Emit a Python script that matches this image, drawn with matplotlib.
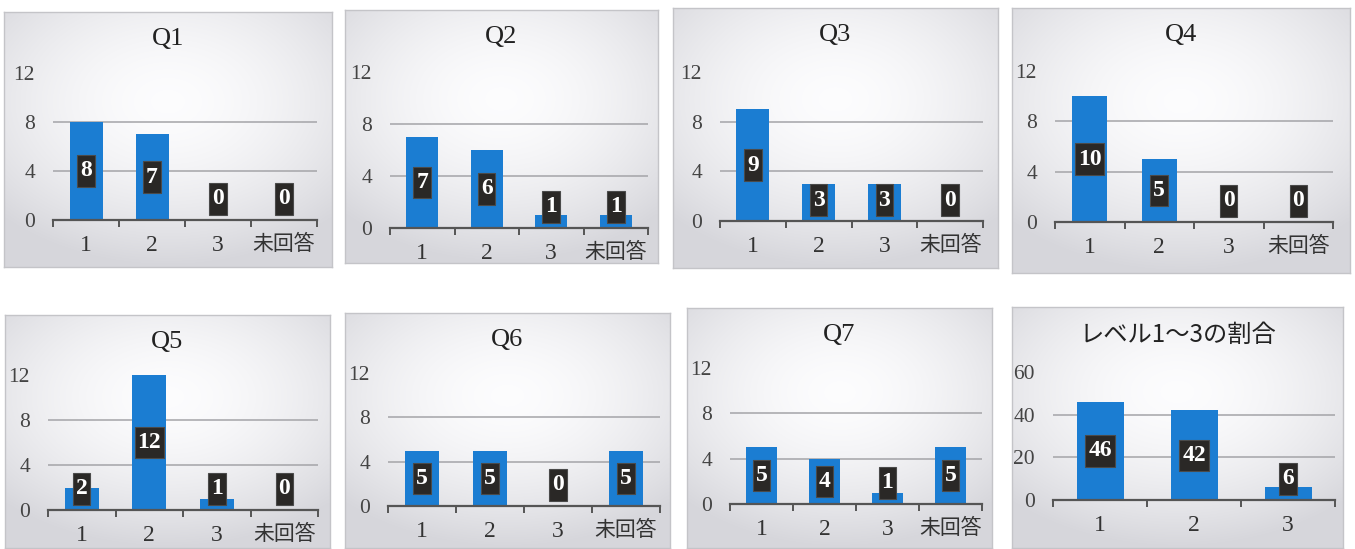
import matplotlib
matplotlib.use('Agg')
import matplotlib.pyplot as plt
from matplotlib.path import Path
import numpy as np

# answer counts per question, plus the level share chart
titles = ['Q1', 'Q2', 'Q3', 'Q4', 'Q5', 'Q6', 'Q7', 'レベル1～3の割合']
answers = ['1', '2', '3', '未回答']
levels = ['1', '2', '3']
q1 = [8, 7, 0, 0]
q2 = [7, 6, 1, 1]
q3 = [9, 3, 3, 0]
q4 = [10, 5, 0, 0]
q5 = [2, 12, 1, 0]
q6 = [5, 5, 0, 5]
q7 = [5, 4, 1, 5]
level_share = [46, 42, 6]
count_ticks = [0, 4, 8, 12]
share_ticks = [0, 20, 40, 60]

W, H, DPI = 1355, 549, 100

# panel frames and plot areas in pixels: (left, top, right, bottom)
PANELS = [(4, 12, 332, 267), (345, 10, 658, 263), (673, 8, 998, 268),
          (1012, 8, 1350, 273), (5, 315, 330, 548), (345, 313, 670, 548),
          (687, 308, 992, 548), (1012, 307, 1343, 548)]
AREAS = [(53, 73, 317, 220), (390, 72, 648, 228), (720, 72, 983, 221),
         (1055, 71, 1333, 222), (48, 375, 318, 510), (388, 373, 660, 506),
         (730, 368, 982, 504), (1053, 372, 1335, 500)]

BAR = '#1b7dd2'
SERIF = ['Liberation Serif', 'Noto Sans CJK JP']


def frac(box):
    l, t, r, b = box
    return [l / W, 1 - b / H, (r - l) / W, (b - t) / H]


def gradient():
    yy, xx = np.mgrid[-1:1:80j, -1:1:80j]
    d = np.clip(np.sqrt((xx * 0.9) ** 2 + (yy + 0.3) ** 2) / 1.3, 0, 1)
    lo = np.array([0.99, 0.99, 0.995])
    hi = np.array([0.84, 0.84, 0.86])
    return lo + (hi - lo) * (d[..., None] ** 1.7)


def tall_box(x0, y0, width, height, mutation_size):
    # narrow side padding, more room above and below the digits
    px, py = 0.12 * mutation_size, 0.22 * mutation_size
    x0, y0 = x0 - px, y0 - py
    x1, y1 = x0 + width + 2 * px, y0 + height + 2 * py
    return Path([(x0, y0), (x1, y0), (x1, y1), (x0, y1), (x0, y0)],
                closed=True)


fig = plt.figure(figsize=(W / DPI, H / DPI), dpi=DPI)
fig.patch.set_facecolor('white')

series = [q1, q2, q3, q4, q5, q6, q7, level_share]
bg = gradient()

for k, vals in enumerate(series):
    cats = levels if k == 7 else answers
    ticks = share_ticks if k == 7 else count_ticks
    ymax = ticks[-1]

    # panel background
    pax = fig.add_axes(frac(PANELS[k]), zorder=0)
    pax.imshow(bg, extent=[0, 1, 0, 1], aspect='auto', interpolation='bicubic')
    pax.set_xticks([])
    pax.set_yticks([])
    for s in pax.spines.values():
        s.set_color('#c4c4c8')
        s.set_linewidth(1)

    l, t, r, b = PANELS[k]
    if k == 7:
        fig.text((l + r) / 2 / W, 1 - (t + 28) / H, titles[k], ha='center',
                 va='center', fontsize=17.5, color='#222222',
                 family=['Noto Sans CJK JP'])
    else:
        fig.text((l + r) / 2 / W, 1 - (t + 27) / H, titles[k], ha='center',
                 va='center', fontsize=19, color='#222222', family=SERIF)

    ax = fig.add_axes(frac(AREAS[k]), zorder=1)
    ax.patch.set_alpha(0)
    x = np.arange(len(cats))
    ax.bar(x, vals, width=0.5, color=BAR, zorder=2)
    ax.set_xlim(-0.5, len(cats) - 0.5)
    ax.set_ylim(0, ymax)

    for v in ticks[1:-1]:
        ax.axhline(v, color='#a4a4a8', lw=1.1, zorder=1)

    for s in ['top', 'right', 'left']:
        ax.spines[s].set_visible(False)
    ax.spines['bottom'].set_color('#555555')
    ax.spines['bottom'].set_linewidth(1.6)

    ax.set_yticks(ticks)
    ax.set_yticklabels([str(v) for v in ticks], family=SERIF, fontsize=15.5,
                       color='#444444')
    ax.tick_params(axis='y', length=0, pad=13)
    ax.set_xticks(x)
    ax.set_xticklabels(cats, family=SERIF, fontsize=17, color='#333333')
    for lab in ax.get_xticklabels():
        if not lab.get_text().isdigit():
            lab.set_fontsize(15)
    ax.tick_params(axis='x', which='major', length=0, pad=11)
    ax.set_xticks(np.arange(len(cats) + 1) - 0.5, minor=True)
    ax.tick_params(axis='x', which='minor', length=5, width=1.4,
                   color='#555555', direction='out')

    # value labels sit at half height, kept clear of the baseline
    ppu = (AREAS[k][3] - AREAS[k][1]) / ymax
    for i, v in enumerate(vals):
        off_px = max(v / 2 * ppu, 21)
        ax.annotate(str(v), xy=(i, 0), xytext=(0, off_px * 72 / DPI),
                    textcoords='offset points', ha='center', va='center',
                    fontsize=17, fontweight='bold', color='white',
                    family='Liberation Serif', zorder=4,
                    bbox=dict(boxstyle=tall_box, fc='#2a2826',
                              ec='#4a4a4a', lw=0.8))

fig.savefig('out.png', dpi=DPI)
